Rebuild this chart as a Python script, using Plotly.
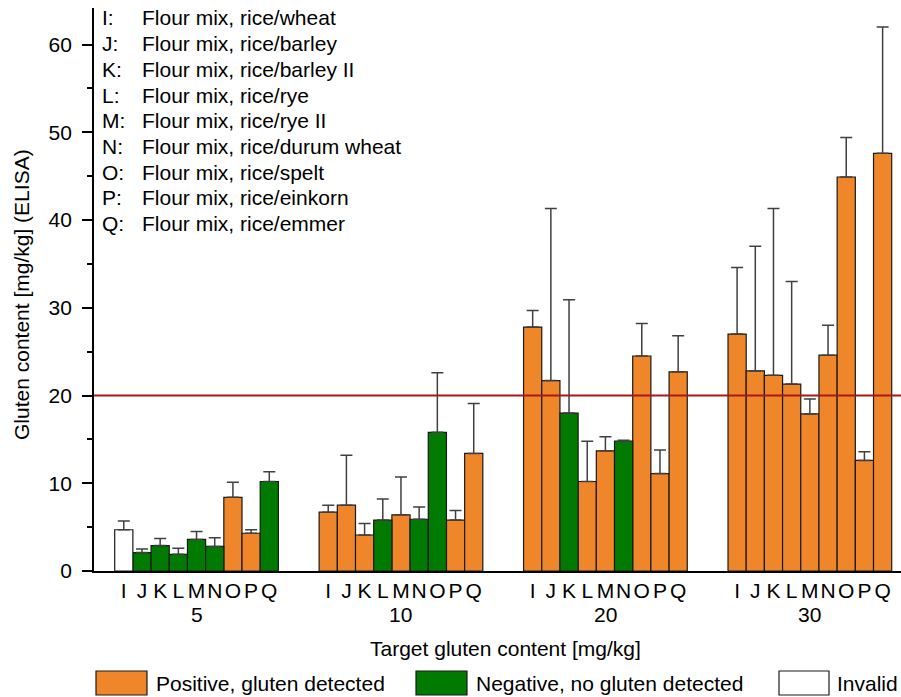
import plotly.graph_objects as go

# ---------------- data ----------------
groups = ["5", "10", "20", "30"]
samples = ["I", "J", "K", "L", "M", "N", "O", "P", "Q"]
sample_names = [
    "Flour mix, rice/wheat",
    "Flour mix, rice/barley",
    "Flour mix, rice/barley II",
    "Flour mix, rice/rye",
    "Flour mix, rice/rye II",
    "Flour mix, rice/durum wheat",
    "Flour mix, rice/spelt",
    "Flour mix, rice/einkorn",
    "Flour mix, rice/emmer",
]

values_5 = [4.7, 2.1, 2.9, 1.9, 3.6, 2.8, 8.4, 4.3, 10.2]
upper_5 = [5.7, 2.5, 3.7, 2.6, 4.5, 3.8, 10.1, 4.7, 11.3]
status_5 = ["inv", "neg", "neg", "neg", "neg", "neg", "pos", "pos", "neg"]

values_10 = [6.7, 7.5, 4.1, 5.8, 6.4, 5.9, 15.8, 5.8, 13.4]
upper_10 = [7.5, 13.2, 5.4, 8.2, 10.7, 7.3, 22.6, 6.9, 19.1]
status_10 = ["pos", "pos", "pos", "neg", "pos", "neg", "neg", "pos", "pos"]

values_20 = [27.8, 21.7, 18.0, 10.2, 13.7, 14.8, 24.5, 11.1, 22.7]
upper_20 = [29.7, 41.3, 30.9, 14.8, 15.3, 14.9, 28.2, 13.8, 26.8]
status_20 = ["pos", "pos", "neg", "pos", "pos", "neg", "pos", "pos", "pos"]

values_30 = [27.0, 22.8, 22.3, 21.3, 17.9, 24.6, 44.9, 12.6, 47.6]
upper_30 = [34.6, 37.0, 41.3, 33.0, 19.6, 28.0, 49.4, 13.6, 62.0]
status_30 = ["pos", "pos", "pos", "pos", "pos", "pos", "pos", "pos", "pos"]

threshold = 20
y_ticks = [0, 10, 20, 30, 40, 50, 60]

all_values = [values_5, values_10, values_20, values_30]
all_upper = [upper_5, upper_10, upper_20, upper_30]
all_status = [status_5, status_10, status_20, status_30]

status_names = {
    "pos": "Positive, gluten detected",
    "neg": "Negative, no gluten detected",
    "inv": "Invalid",
}
status_colors = {"pos": "#F0862A", "neg": "#007A00", "inv": "#FFFFFF"}

# ---------------- layout constants ----------------
W, H = 901, 697
ML, MR, MT, MB = 94, 0, 8, 126
PW, PH = W - ML - MR, H - MT - MB
GROUP_STEP = 11.24
FONT = "Arial, Liberation Sans, sans-serif"
FS = 21


def px_x(px):
    return (px - ML) / PW


def px_y(py):
    return (H - MB - py) / PH


fig = go.Figure()

tickvals, ticktext = [], []
for gi, g in enumerate(groups):
    for si, s in enumerate(samples):
        tickvals.append(gi * GROUP_STEP + si)
        ticktext.append(s)

for st in ["pos", "neg", "inv"]:
    xs, ys, es = [], [], []
    for gi in range(len(groups)):
        for si in range(len(samples)):
            if all_status[gi][si] == st:
                xs.append(gi * GROUP_STEP + si)
                ys.append(all_values[gi][si])
                es.append(all_upper[gi][si] - all_values[gi][si])
    fig.add_trace(go.Bar(
        x=xs, y=ys, width=1,
        name=status_names[st],
        marker=dict(color=status_colors[st], line=dict(color="#1a1a1a", width=1.2)),
        error_y=dict(type="data", symmetric=False, array=es, arrayminus=[0] * len(es),
                     color="#404040", thickness=1.5, width=6),
        showlegend=False,
        hoverinfo="skip",
    ))

fig.add_shape(type="line", xref="paper", yref="y", x0=0, x1=1, y0=threshold, y1=threshold,
              line=dict(color="#A81818", width=2), layer="above")

annotations = []
# group labels
for gi, g in enumerate(groups):
    annotations.append(dict(x=gi * GROUP_STEP + 4, xref="x", y=0, yref="paper", yshift=-43,
                            text=g, showarrow=False, yanchor="middle", xanchor="center",
                            font=dict(size=FS, color="black", family=FONT)))
# axis titles
annotations.append(dict(x=px_x(505), xref="paper", y=0, yref="paper", yshift=-77,
                        text="Target gluten content [mg/kg]", showarrow=False,
                        yanchor="middle", xanchor="center",
                        font=dict(size=FS, color="black", family=FONT)))
annotations.append(dict(x=px_x(21), xref="paper", y=px_y(295), yref="paper",
                        text="Gluten content [mg/kg] (ELISA)", showarrow=False, textangle=-90,
                        yanchor="middle", xanchor="center",
                        font=dict(size=FS, color="black", family=FONT)))
# sample key (top left)
for k, (s, name) in enumerate(zip(samples, sample_names)):
    yy = px_y(18 + 25.7 * k)
    annotations.append(dict(x=px_x(100), xref="paper", y=yy, yref="paper", text=s + ":",
                            showarrow=False, xanchor="left", yanchor="middle",
                            font=dict(size=FS, color="black", family=FONT)))
    annotations.append(dict(x=px_x(140), xref="paper", y=yy, yref="paper", text=name,
                            showarrow=False, xanchor="left", yanchor="middle",
                            font=dict(size=FS, color="black", family=FONT)))

# bottom legend
legend_items = [("pos", 96, 147, 154), ("neg", 416, 467, 474), ("inv", 779, 829, 835)]
for st, x0, x1, tx in legend_items:
    fig.add_shape(type="rect", xref="paper", yref="paper",
                  x0=px_x(x0), x1=px_x(x1), y0=px_y(695), y1=px_y(671),
                  fillcolor=status_colors[st], line=dict(color="#1a1a1a", width=1.2))
    annotations.append(dict(x=px_x(tx), xref="paper", y=px_y(683), yref="paper",
                            text=status_names[st], showarrow=False, xanchor="left",
                            yanchor="middle", font=dict(size=FS, color="black", family=FONT)))

x_left = -0.5 - 20.7 / 18.2
x_right = 3 * GROUP_STEP + 8.5 + 9.3 / 18.2

fig.update_layout(
    width=W, height=H,
    margin=dict(l=ML, r=MR, t=MT, b=MB, pad=0),
    paper_bgcolor="white", plot_bgcolor="white",
    barmode="overlay",
    font=dict(family=FONT, size=FS, color="black"),
    annotations=annotations,
    xaxis=dict(range=[x_left, x_right], tickmode="array", tickvals=tickvals, ticktext=ticktext,
               showline=True, linecolor="black", linewidth=2, ticks="", showgrid=False,
               zeroline=False, tickfont=dict(size=FS, family=FONT, color="black"),
               tickangle=0, ticklabelstandoff=0),
    yaxis=dict(range=[0, 64.16], tickmode="array", tickvals=y_ticks,
               showline=True, linecolor="black", linewidth=1.8, ticks="outside",
               ticklen=10, tickwidth=1.5, tickcolor="black", showgrid=False, zeroline=False,
               tickfont=dict(size=FS, family=FONT, color="black"), ticklabelstandoff=6,
               minor=dict(dtick=5, ticks="outside", ticklen=5, tickwidth=1.5, tickcolor="black")),
)

fig.write_html("out.html", config={"displayModeBar": False},
               post_script="document.body.style.margin='0';document.body.style.padding='0';"
                           "document.documentElement.style.overflow='hidden';")
